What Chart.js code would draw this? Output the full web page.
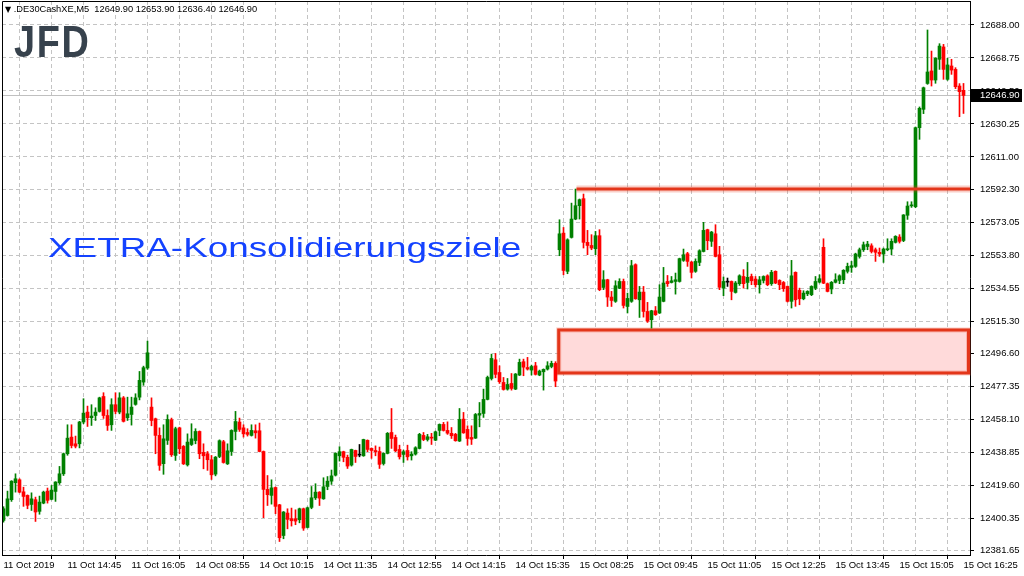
<!DOCTYPE html>
<html>
<head>
<meta charset="utf-8">
<script src="https://cdn.jsdelivr.net/npm/chart.js@4.4.1/dist/chart.umd.min.js"></script>
<style>
html,body{margin:0;padding:0;background:#fff;}
#wrap{position:relative;width:1024px;height:576px;overflow:hidden;background:#fff;}
#c{position:absolute;left:0;top:0;}
.hdr{position:absolute;left:5px;top:4px;font:9.3px 'Liberation Sans',Arial,sans-serif;color:#000;white-space:pre;line-height:11px;}
.hdr .tri{font:8px 'DejaVu Sans',sans-serif;}
.logo{position:absolute;left:14px;top:20px;font:bold 44px 'Liberation Sans',Arial,sans-serif;color:#37424d;line-height:44px;transform-origin:left top;transform:scaleX(0.86);letter-spacing:2px;}
.title{position:absolute;left:48px;top:234px;font:27.5px 'Liberation Sans',Arial,sans-serif;color:#1442ff;line-height:27px;white-space:nowrap;transform-origin:left top;transform:scaleX(1.34);}
</style>
</head>
<body>
<div id="wrap">
<canvas id="c" width="1024" height="576"></canvas>
<div class="hdr"><span class="tri">▼</span> .DE30CashXE,M5  12649.90 12653.90 12636.40 12646.90</div>
<div class="logo">JFD</div>
<div class="title">XETRA-Konsolidierungsziele</div>
</div>
<script>
// ---- Data ----
const timeLabels = ['11 Oct 2019','11 Oct 14:45','11 Oct 16:05','14 Oct 08:55','14 Oct 10:15','14 Oct 11:35','14 Oct 12:55','14 Oct 14:15','14 Oct 15:35','15 Oct 08:25','15 Oct 09:45','15 Oct 11:05','15 Oct 12:25','15 Oct 13:45','15 Oct 15:05','15 Oct 16:25'];
const priceTicks = [12688.00,12668.75,12649.50,12630.25,12611.00,12592.30,12573.05,12553.80,12534.55,12515.30,12496.60,12477.35,12458.10,12438.85,12419.60,12400.35,12381.65];

const opens = [12399.0,12401.9,12411.1,12421.0,12422.7,12415.7,12413.6,12408.3,12411.1,12404.3,
12409.1,12416.1,12411.3,12415.9,12421.0,12426.2,12437.9,12447.6,12443.7,12443.7,
12456.4,12462.2,12458.9,12460.2,12462.6,12471.3,12460.2,12454.8,12466.5,12462.2,
12470.5,12458.9,12460.8,12466.7,12470.9,12479.7,12487.9,12465.1,12458.3,12448.6,
12432.1,12445.7,12457.7,12436.9,12453.0,12442.2,12431.4,12443.3,12445.6,12450.9,
12438.7,12437.9,12434.4,12426.0,12436.3,12444.9,12432.0,12439.2,12450.9,12456.4,
12453.0,12450.3,12448.6,12451.3,12451.3,12439.2,12417.1,12413.6,12418.2,12408.1,
12390.2,12403.3,12400.0,12400.0,12399.4,12405.8,12394.9,12406.6,12412.2,12415.5,
12411.6,12418.8,12421.9,12425.4,12436.7,12439.1,12435.8,12431.3,12439.8,12437.1,
12436.7,12445.7,12441.0,12439.8,12439.2,12432.2,12438.1,12450.3,12447.4,12440.4,
12437.5,12439.8,12436.7,12437.7,12441.0,12448.6,12446.2,12447.4,12445.8,12451.5,
12455.0,12451.5,12449.8,12449.2,12445.3,12458.1,12452.1,12447.4,12447.0,12460.4,
12461.4,12469.6,12481.8,12492.7,12485.3,12479.5,12475.6,12478.9,12475.6,12483.8,
12491.6,12488.2,12486.7,12489.2,12483.8,12485.7,12487.3,12488.8,12490.6,12556.9,
12566.6,12544.3,12564.1,12574.8,12582.6,12586.7,12561.2,12559.4,12557.5,12565.1,
12534.9,12539.4,12529.3,12526.8,12534.5,12538.4,12523.8,12526.8,12548.2,12527.7,
12532.2,12520.9,12516.1,12521.3,12520.0,12526.8,12538.4,12537.8,12538.4,12538.4,
12550.7,12554.6,12549.7,12544.3,12549.5,12555.9,12568.6,12561.8,12566.2,12554.0,
12534.5,12538.0,12538.4,12532.0,12537.1,12541.3,12537.8,12541.3,12539.8,12536.5,
12539.0,12541.7,12537.1,12544.3,12539.0,12537.8,12535.5,12526.8,12543.7,12533.2,
12528.3,12531.2,12530.7,12534.5,12538.0,12558.3,12537.1,12534.0,12537.9,12539.0,
12539.4,12544.3,12546.6,12547.2,12553.0,12556.9,12558.8,12559.2,12556.9,12555.4,
12554.4,12556.9,12557.3,12561.2,12564.3,12562.3,12577.0,12582.5,12582.0,12628.1,
12638.8,12653.9,12661.2,12655.9,12668.0,12675.2,12656.3,12664.1,12662.1,12652.4,
12649.9];

const highs = [12407.0,12416.1,12422.2,12426.2,12423.3,12418.4,12413.9,12415.1,12412.6,12413.2,
12416.1,12417.9,12419.4,12421.6,12430.5,12438.3,12454.8,12454.8,12448.2,12456.8,
12470.0,12465.7,12466.5,12464.7,12470.9,12473.5,12463.5,12470.0,12473.5,12473.5,
12471.3,12470.9,12470.9,12472.9,12485.9,12489.0,12503.6,12470.5,12458.7,12453.0,
12454.8,12460.6,12458.7,12453.4,12453.4,12442.7,12449.5,12455.4,12452.5,12451.2,
12443.7,12439.2,12436.9,12436.3,12446.0,12445.7,12443.7,12451.9,12462.6,12458.7,
12454.8,12452.5,12454.8,12454.8,12455.8,12439.5,12425.2,12422.7,12418.5,12408.4,
12404.2,12405.8,12406.2,12405.2,12406.2,12406.2,12406.8,12418.8,12420.4,12415.8,
12423.9,12424.6,12428.4,12438.5,12442.0,12439.4,12437.1,12440.6,12440.0,12443.3,
12446.4,12446.0,12441.3,12442.5,12441.8,12438.4,12450.3,12464.3,12448.8,12442.9,
12440.0,12442.9,12439.1,12442.0,12449.8,12450.3,12449.2,12449.8,12451.1,12455.3,
12456.2,12456.5,12453.2,12449.8,12464.3,12462.0,12454.2,12454.2,12461.4,12467.8,
12475.6,12483.2,12496.0,12496.4,12489.2,12482.4,12481.8,12484.7,12484.7,12493.1,
12493.1,12494.1,12489.6,12491.2,12486.7,12487.4,12491.6,12491.9,12491.6,12574.4,
12569.9,12563.3,12584.1,12592.3,12586.5,12589.4,12568.2,12565.7,12567.6,12568.6,
12544.7,12539.7,12532.6,12538.8,12540.0,12539.8,12531.6,12550.7,12548.7,12535.5,
12535.5,12526.2,12521.6,12523.8,12536.5,12546.6,12541.9,12541.3,12543.3,12552.0,
12557.3,12555.4,12550.1,12551.6,12556.9,12572.9,12568.9,12567.6,12571.5,12558.9,
12541.0,12540.4,12538.7,12538.4,12542.3,12545.3,12549.5,12542.7,12541.3,12541.3,
12541.7,12542.3,12544.9,12544.6,12539.4,12538.4,12535.8,12550.7,12544.0,12534.5,
12533.0,12533.0,12535.9,12541.3,12542.3,12563.3,12537.5,12538.4,12542.9,12542.3,
12545.3,12549.1,12550.1,12554.9,12557.9,12561.4,12561.8,12560.4,12557.9,12557.9,
12557.9,12563.3,12563.3,12565.1,12565.7,12577.4,12584.9,12584.9,12628.5,12640.2,
12651.8,12685.1,12672.8,12668.9,12677.1,12676.7,12668.6,12668.0,12663.1,12653.8,
12653.9];

const lows = [12398.0,12401.5,12410.1,12415.5,12415.1,12407.2,12405.8,12404.8,12398.4,12402.6,
12408.7,12409.1,12411.0,12410.1,12420.0,12425.2,12437.0,12441.3,12441.3,12441.3,
12455.4,12453.8,12454.4,12457.3,12462.2,12458.5,12451.5,12451.5,12461.2,12461.2,
12456.4,12457.3,12454.6,12466.2,12469.3,12477.8,12487.1,12454.2,12437.9,12428.2,
12425.9,12443.3,12436.3,12434.0,12437.9,12431.6,12430.7,12442.7,12443.7,12435.0,
12429.1,12428.2,12422.9,12425.0,12435.6,12432.4,12431.6,12436.9,12446.0,12450.9,
12447.6,12448.2,12448.2,12447.0,12439.0,12400.6,12407.7,12408.5,12402.9,12386.7,
12388.3,12394.1,12395.7,12396.5,12397.6,12393.2,12394.6,12405.8,12411.2,12407.7,
12411.3,12416.9,12420.0,12424.9,12433.6,12433.2,12429.3,12430.7,12432.8,12436.1,
12436.4,12439.1,12435.2,12436.7,12429.3,12431.3,12437.8,12441.0,12439.1,12434.8,
12432.8,12434.2,12434.2,12437.1,12440.7,12445.5,12445.3,12443.3,12445.5,12448.4,
12451.1,12449.2,12446.8,12445.2,12445.0,12449.8,12442.9,12443.3,12446.8,12453.6,
12459.1,12469.3,12480.9,12482.2,12478.9,12475.0,12475.0,12475.0,12475.3,12483.5,
12483.4,12486.7,12483.8,12483.8,12483.4,12475.0,12486.7,12488.0,12477.0,12553.4,
12542.3,12542.9,12563.7,12574.4,12574.8,12557.9,12554.0,12556.9,12554.0,12533.0,
12533.6,12523.8,12523.8,12526.2,12534.2,12522.9,12520.0,12526.2,12528.0,12517.4,
12517.6,12514.5,12511.2,12518.6,12519.7,12526.5,12535.5,12537.5,12531.0,12538.0,
12550.1,12547.2,12540.4,12543.7,12547.6,12555.6,12556.9,12558.8,12552.7,12533.6,
12530.1,12535.5,12527.7,12531.6,12536.1,12534.5,12534.0,12536.5,12535.1,12531.6,
12537.5,12535.9,12536.1,12537.1,12533.6,12532.6,12526.4,12522.9,12523.9,12524.8,
12527.7,12530.1,12530.1,12533.6,12537.5,12537.1,12532.3,12531.2,12537.5,12537.1,
12537.1,12543.3,12543.7,12546.6,12552.0,12555.9,12556.9,12555.0,12550.1,12553.0,
12549.5,12556.3,12554.0,12560.8,12560.8,12561.6,12574.6,12581.6,12581.4,12621.3,
12636.3,12653.4,12652.4,12654.0,12662.1,12656.3,12655.7,12659.2,12650.9,12634.5,
12636.4];

const closes = [12405.8,12411.6,12421.9,12423.3,12415.5,12413.0,12407.8,12411.6,12403.9,12409.7,
12415.5,12410.7,12416.7,12421.4,12426.2,12437.9,12447.0,12442.7,12442.3,12456.4,
12461.6,12458.9,12459.9,12462.2,12470.5,12460.2,12454.4,12466.5,12462.6,12470.5,
12456.8,12461.2,12465.1,12470.5,12480.7,12488.1,12496.8,12457.3,12448.6,12431.1,
12446.6,12457.9,12437.3,12452.5,12440.8,12432.0,12444.7,12446.6,12450.9,12437.9,
12436.7,12434.4,12425.6,12435.9,12445.5,12432.8,12439.6,12451.5,12456.7,12452.1,
12449.5,12449.2,12451.5,12450.1,12439.2,12417.1,12414.0,12418.0,12407.2,12388.9,
12403.9,12399.6,12398.8,12398.6,12405.8,12394.5,12406.4,12412.2,12415.5,12412.0,
12418.6,12421.9,12425.0,12438.1,12439.1,12435.8,12430.7,12440.4,12436.3,12437.1,
12446.2,12440.4,12439.8,12439.1,12431.7,12438.1,12449.8,12446.8,12439.6,12436.1,
12439.1,12436.1,12437.7,12441.4,12449.2,12446.2,12447.8,12447.0,12450.7,12455.0,
12451.5,12449.9,12448.4,12445.5,12457.9,12450.1,12446.8,12446.4,12460.8,12461.4,
12469.6,12482.4,12493.5,12484.2,12479.9,12475.4,12478.3,12476.0,12484.4,12491.2,
12488.4,12487.3,12488.8,12484.2,12486.1,12487.1,12489.2,12490.6,12480.3,12566.2,
12544.8,12562.7,12574.8,12582.6,12586.1,12561.2,12559.4,12557.9,12565.1,12533.6,
12539.4,12529.3,12527.3,12535.9,12538.4,12524.4,12528.5,12547.6,12528.3,12532.2,
12520.9,12515.3,12521.3,12519.0,12529.3,12537.5,12537.1,12538.8,12539.4,12551.7,
12554.0,12550.1,12543.7,12550.1,12556.3,12568.2,12562.2,12567.2,12553.0,12535.0,
12538.4,12538.0,12532.6,12537.5,12541.7,12537.1,12540.8,12538.8,12536.5,12539.4,
12541.3,12536.5,12543.7,12537.5,12536.5,12534.2,12526.8,12541.7,12527.7,12528.3,
12531.6,12532.6,12535.5,12538.4,12540.0,12537.4,12532.6,12537.9,12539.4,12541.7,
12544.9,12547.2,12547.6,12554.4,12556.9,12559.8,12560.2,12555.9,12555.4,12554.4,
12557.3,12557.5,12561.8,12564.7,12561.8,12577.2,12582.4,12583.0,12628.1,12639.4,
12651.4,12660.6,12655.9,12668.6,12675.7,12662.1,12664.7,12661.7,12652.0,12649.1,
12646.9];

const lastPrice = 12646.90;
const resistanceLevel = 12592.3;
const resistanceStartBar = 143.25;
const zoneTop = 12510.1;
const zoneBottom = 12485.0;
const zoneStartBar = 138.8;

// ---- Build ----
const UP = '#008000', DOWN = '#ff0000', DOJI = '#000000';
const colorOf = i => closes[i] > opens[i] ? UP : (closes[i] < opens[i] ? DOWN : DOJI);
const bodies = opens.map((o, i) => ({x: i, y: [o, closes[i]]}));
const wicks = opens.map((o, i) => ({x: i, y: [lows[i], highs[i]]}));
const barColors = opens.map((o, i) => colorOf(i));

const FONT = {family: "'Liberation Sans', Arial, sans-serif", size: 9.5};

const overlay = {
  id: 'overlay',
  beforeDatasetsDraw(chart) {
    const {ctx, chartArea: a, scales: {x, y}} = chart;
    ctx.save();
    const py = Math.round(y.getPixelForValue(lastPrice)) + 0.5;
    ctx.strokeStyle = '#c0c0c0'; ctx.lineWidth = 1;
    ctx.beginPath(); ctx.moveTo(a.left, py); ctx.lineTo(a.right, py); ctx.stroke();
    const zx = x.getPixelForValue(zoneStartBar);
    const zt = y.getPixelForValue(zoneTop), zb = y.getPixelForValue(zoneBottom);
    const zr = a.right - 1.5;
    ctx.fillStyle = '#ffdada';
    ctx.fillRect(zx, zt, zr - zx, zb - zt);
    ctx.strokeStyle = 'rgba(232,60,30,0.25)'; ctx.lineWidth = 5;
    ctx.strokeRect(zx, zt, zr - zx, zb - zt);
    ctx.strokeStyle = '#e3361a'; ctx.lineWidth = 3;
    ctx.strokeRect(zx, zt, zr - zx, zb - zt);
    ctx.restore();
  },
  afterDatasetsDraw(chart) {
    const {ctx, chartArea: a, scales: {x, y}} = chart;
    ctx.save();
    const ry = y.getPixelForValue(resistanceLevel);
    const rx = x.getPixelForValue(resistanceStartBar);
    ctx.lineCap = 'butt';
    ctx.strokeStyle = 'rgba(232,60,30,0.25)'; ctx.lineWidth = 7;
    ctx.beginPath(); ctx.moveTo(rx, ry); ctx.lineTo(a.right, ry); ctx.stroke();
    ctx.strokeStyle = '#e3361a'; ctx.lineWidth = 3;
    ctx.beginPath(); ctx.moveTo(rx, ry); ctx.lineTo(a.right, ry); ctx.stroke();
    ctx.strokeStyle = '#000'; ctx.lineWidth = 1;
    ctx.beginPath();
    ctx.moveTo(a.left + 0.5, a.bottom); ctx.lineTo(a.left + 0.5, a.top + 0.5); ctx.lineTo(a.right, a.top + 0.5);
    ctx.stroke();
    ctx.restore();
  },
  afterDraw(chart) {
    const {ctx, chartArea: a, scales: {y}} = chart;
    const py = Math.round(y.getPixelForValue(lastPrice));
    ctx.save();
    ctx.fillStyle = '#000';
    ctx.fillRect(a.right + 1, py - 6, 51, 13);
    ctx.fillStyle = '#fff';
    ctx.font = "9.5px 'Liberation Sans', Arial, sans-serif";
    ctx.textBaseline = 'middle'; ctx.textAlign = 'left';
    ctx.fillText(lastPrice.toFixed(2), a.right + 10, py + 0.5);
    ctx.restore();
  }
};

new Chart(document.getElementById('c'), {
  type: 'bar',
  data: {
    datasets: [
      {label: 'body', data: bodies, backgroundColor: barColors, borderWidth: 0, barThickness: 3, minBarLength: 1, grouped: false, order: 0},
      {label: 'wick', data: wicks, backgroundColor: barColors, borderWidth: 0, barThickness: 1, grouped: false, order: 1}
    ]
  },
  options: {
    responsive: false,
    animation: false,
    devicePixelRatio: 1,
    layout: {padding: {left: 2, top: 1, right: 0, bottom: 0}},
    plugins: {legend: {display: false}, tooltip: {enabled: false}},
    scales: {
      x: {
        type: 'linear',
        offset: false,
        min: -0.375,
        max: 241.625,
        afterBuildTicks(s) {
          const t = [];
          for (let v = 0; v <= 240; v += 8) t.push({value: v});
          s.ticks = t;
        },
        afterFit(s) { s.height = 21; s.paddingLeft = 0; s.paddingRight = 0; },
        grid: {
          color: '#c4c4c4',
          lineWidth: 1,
          drawTicks: true,
          tickLength: 4,
          tickColor: ctx => (ctx.tick && ctx.tick.value % 16 === 0) ? '#000' : 'rgba(0,0,0,0)'
        },
        border: {display: true, color: '#000', width: 1, dash: [4, 3]},
        ticks: {
          autoSkip: false,
          maxRotation: 0,
          minRotation: 0,
          align: 'start',
          padding: 1,
          color: '#000',
          font: FONT,
          callback: v => (v % 16 === 0) ? timeLabels[v / 16] : ''
        }
      },
      y: {
        type: 'linear',
        position: 'right',
        min: 12378.83,
        max: 12702.0,
        afterBuildTicks(s) { s.ticks = priceTicks.map(v => ({value: v})); },
        afterFit(s) { s.width = 54; s.paddingTop = 0; s.paddingBottom = 0; },
        grid: {color: '#c4c4c4', lineWidth: 1, drawTicks: true, tickLength: 4, tickColor: '#000'},
        border: {display: true, color: '#000', width: 1, dash: [4, 3]},
        ticks: {
          autoSkip: false,
          padding: 6,
          color: '#000',
          font: FONT,
          callback: v => Number(v).toFixed(2)
        }
      }
    }
  },
  plugins: [overlay]
});
</script>
</body>
</html>
